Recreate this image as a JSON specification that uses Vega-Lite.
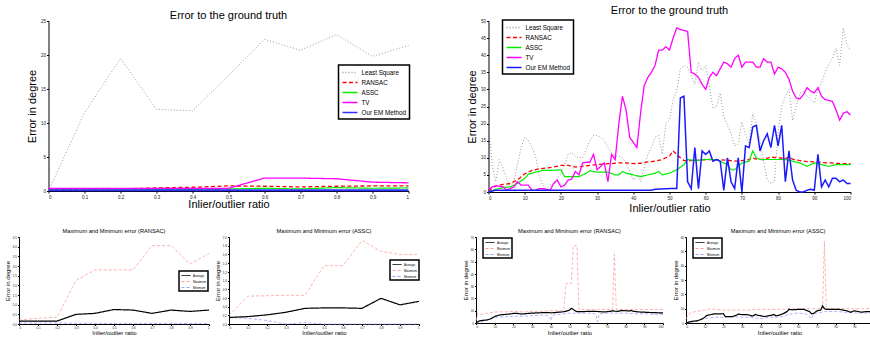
{
"$schema": "https://vega.github.io/schema/vega-lite/v6.json",
"background": "white",
"padding": {"left": 4, "top": 5, "right": 0, "bottom": 0},
"datasets": {
"tl_ls": [{"x":0,"y":0},{"x":0.1,"y":11.5},{"x":0.2,"y":19.5},{"x":0.3,"y":12},{"x":0.4,"y":11.8},{"x":0.5,"y":17},{"x":0.6,"y":22.3},{"x":0.7,"y":20.7},{"x":0.8,"y":23},{"x":0.9,"y":19.8},{"x":1,"y":21.4}],
"tl_ransac": [{"x":0,"y":0.25},{"x":0.1,"y":0.25},{"x":0.2,"y":0.3},{"x":0.3,"y":0.45},{"x":0.4,"y":0.55},{"x":0.5,"y":0.75},{"x":0.6,"y":0.7},{"x":0.7,"y":0.6},{"x":0.8,"y":0.7},{"x":0.9,"y":0.75},{"x":1,"y":0.75}],
"tl_assc": [{"x":0,"y":0.15},{"x":0.1,"y":0.15},{"x":0.2,"y":0.15},{"x":0.3,"y":0.2},{"x":0.4,"y":0.25},{"x":0.5,"y":0.3},{"x":0.6,"y":0.4},{"x":0.7,"y":0.3},{"x":0.8,"y":0.5},{"x":0.9,"y":0.4},{"x":1,"y":0.45}],
"tl_tv": [{"x":0,"y":0.4},{"x":0.1,"y":0.4},{"x":0.2,"y":0.4},{"x":0.3,"y":0.4},{"x":0.4,"y":0.4},{"x":0.5,"y":0.4},{"x":0.6,"y":1.9},{"x":0.7,"y":1.9},{"x":0.8,"y":1.8},{"x":0.9,"y":1.3},{"x":1,"y":1.2}],
"tl_em": [{"x":0,"y":0.1},{"x":0.1,"y":0.1},{"x":0.2,"y":0.1},{"x":0.3,"y":0.1},{"x":0.4,"y":0.1},{"x":0.5,"y":0.1},{"x":0.6,"y":0.1},{"x":0.7,"y":0.1},{"x":0.8,"y":0.1},{"x":0.9,"y":0.1},{"x":1,"y":0.1}],
"tr_ls": [{"x":0,"y":21},{"x":1,"y":8},{"x":2,"y":3},{"x":3,"y":9.5},{"x":4,"y":7},{"x":5,"y":4},{"x":6,"y":1.5},{"x":7,"y":3},{"x":8,"y":8},{"x":9,"y":13},{"x":10,"y":16},{"x":11,"y":15},{"x":12,"y":13},{"x":13,"y":10.5},{"x":14,"y":5},{"x":15,"y":2},{"x":16,"y":1},{"x":17,"y":2},{"x":18,"y":2.5},{"x":19,"y":4},{"x":20,"y":5},{"x":21,"y":8},{"x":22,"y":11},{"x":23,"y":11.5},{"x":24,"y":10.5},{"x":25,"y":10},{"x":26,"y":10},{"x":27,"y":12.5},{"x":28,"y":15},{"x":29,"y":16.5},{"x":30,"y":16.5},{"x":31,"y":16},{"x":32,"y":15},{"x":33,"y":13},{"x":34,"y":11.5},{"x":35,"y":10.5},{"x":36,"y":10.5},{"x":37,"y":10},{"x":38,"y":8.5},{"x":39,"y":6},{"x":40,"y":3.5},{"x":41,"y":5},{"x":42,"y":3},{"x":43,"y":7},{"x":44,"y":11},{"x":45,"y":13},{"x":46,"y":16},{"x":47,"y":16.5},{"x":48,"y":11},{"x":49,"y":20},{"x":50,"y":21},{"x":51,"y":27},{"x":52,"y":29.5},{"x":53,"y":36},{"x":54,"y":37},{"x":55,"y":36.5},{"x":56,"y":34},{"x":57,"y":31.5},{"x":58,"y":38},{"x":59,"y":35.5},{"x":60,"y":37},{"x":61,"y":31},{"x":62,"y":24.5},{"x":63,"y":25},{"x":64,"y":29},{"x":65,"y":22},{"x":66,"y":19.5},{"x":67,"y":17},{"x":68,"y":13.5},{"x":69,"y":14},{"x":70,"y":20.5},{"x":71,"y":17},{"x":72,"y":14},{"x":73,"y":23},{"x":74,"y":20},{"x":75,"y":15},{"x":76,"y":9},{"x":77,"y":3.5},{"x":78,"y":2.5},{"x":79,"y":3},{"x":80,"y":17.5},{"x":81,"y":25},{"x":82,"y":28},{"x":83,"y":30},{"x":84,"y":21},{"x":85,"y":25},{"x":86,"y":29},{"x":87,"y":29.5},{"x":88,"y":28},{"x":89,"y":27},{"x":90,"y":26},{"x":91,"y":30},{"x":92,"y":32},{"x":93,"y":35},{"x":94,"y":37.5},{"x":95,"y":39},{"x":96,"y":42},{"x":97,"y":37},{"x":98,"y":48},{"x":99,"y":43},{"x":100,"y":41.5}],
"tr_ransac": [{"x":0,"y":0.3},{"x":2,"y":1.8},{"x":4,"y":2.2},{"x":6,"y":2.5},{"x":8,"y":3.5},{"x":10,"y":5.3},{"x":12,"y":6.3},{"x":14,"y":6.8},{"x":16,"y":7},{"x":18,"y":7.3},{"x":20,"y":7.8},{"x":22,"y":7.8},{"x":24,"y":7.3},{"x":26,"y":7.5},{"x":28,"y":7.8},{"x":30,"y":8},{"x":32,"y":8.2},{"x":34,"y":8.3},{"x":36,"y":8.5},{"x":38,"y":8.5},{"x":40,"y":8.3},{"x":42,"y":8.4},{"x":44,"y":8.8},{"x":46,"y":9},{"x":48,"y":9.5},{"x":50,"y":10.5},{"x":51,"y":12},{"x":52,"y":11},{"x":53,"y":10},{"x":54,"y":9.2},{"x":56,"y":9.2},{"x":58,"y":9.3},{"x":60,"y":9.5},{"x":62,"y":9.5},{"x":64,"y":9.4},{"x":66,"y":9.3},{"x":68,"y":9},{"x":70,"y":9.2},{"x":72,"y":9.5},{"x":73,"y":10},{"x":74,"y":9.6},{"x":76,"y":9.5},{"x":78,"y":10.2},{"x":80,"y":10},{"x":82,"y":9.8},{"x":83,"y":10.2},{"x":84,"y":9.6},{"x":86,"y":9.2},{"x":88,"y":8.9},{"x":90,"y":8.8},{"x":92,"y":8.6},{"x":94,"y":8.5},{"x":96,"y":8.4},{"x":98,"y":8.3},{"x":100,"y":8.3}],
"tr_assc": [{"x":0,"y":0},{"x":2,"y":0.8},{"x":4,"y":1.3},{"x":6,"y":1.5},{"x":8,"y":2.5},{"x":10,"y":4},{"x":11,"y":5.2},{"x":13,"y":5.8},{"x":15,"y":6.3},{"x":17,"y":6.3},{"x":20,"y":6.5},{"x":21,"y":4.5},{"x":23,"y":4.5},{"x":25,"y":4.5},{"x":27,"y":5.5},{"x":28,"y":6.2},{"x":30,"y":5.8},{"x":33,"y":5.8},{"x":35,"y":5},{"x":36,"y":5},{"x":37,"y":6},{"x":38,"y":5.5},{"x":40,"y":5},{"x":42,"y":4.5},{"x":44,"y":5},{"x":46,"y":5.5},{"x":47,"y":6},{"x":48,"y":5},{"x":50,"y":5.5},{"x":52,"y":6.5},{"x":54,"y":8},{"x":55,"y":9.5},{"x":57,"y":9.2},{"x":60,"y":9.5},{"x":63,"y":9.5},{"x":65,"y":8.5},{"x":66,"y":8},{"x":67,"y":6.5},{"x":68,"y":6.5},{"x":70,"y":8.5},{"x":72,"y":9},{"x":73,"y":12},{"x":74,"y":10},{"x":75,"y":9.5},{"x":78,"y":9.5},{"x":80,"y":9.5},{"x":82,"y":9.5},{"x":84,"y":9},{"x":86,"y":8.5},{"x":88,"y":7.5},{"x":90,"y":8.5},{"x":92,"y":8},{"x":94,"y":7.5},{"x":96,"y":8},{"x":98,"y":8},{"x":100,"y":8}],
"tr_tv": [{"x":0,"y":0.5},{"x":1,"y":1.5},{"x":2,"y":1.8},{"x":3,"y":1.7},{"x":4,"y":1.5},{"x":5,"y":0.5},{"x":6,"y":1},{"x":7,"y":1.5},{"x":8,"y":3},{"x":9,"y":2},{"x":10,"y":2},{"x":11,"y":2},{"x":12,"y":0.5},{"x":13,"y":0.5},{"x":14,"y":1},{"x":15,"y":1},{"x":16,"y":0.8},{"x":17,"y":0.5},{"x":18,"y":2.5},{"x":19,"y":3.5},{"x":20,"y":1.5},{"x":21,"y":2},{"x":22,"y":3.5},{"x":23,"y":3.8},{"x":24,"y":6},{"x":25,"y":5},{"x":26,"y":8.5},{"x":27,"y":8.7},{"x":28,"y":8.7},{"x":29,"y":11},{"x":30,"y":6.5},{"x":31,"y":7.5},{"x":32,"y":8.5},{"x":33,"y":3},{"x":34,"y":11},{"x":35,"y":9.5},{"x":36,"y":20},{"x":37,"y":28},{"x":38,"y":24},{"x":39,"y":16},{"x":40,"y":14.5},{"x":41,"y":13},{"x":42,"y":23},{"x":43,"y":31},{"x":44,"y":33.5},{"x":45,"y":35},{"x":46,"y":37},{"x":47,"y":41.5},{"x":48,"y":41.5},{"x":49,"y":42.5},{"x":50,"y":41.5},{"x":51,"y":45},{"x":52,"y":48},{"x":53,"y":47.5},{"x":54,"y":47.2},{"x":55,"y":47},{"x":56,"y":35},{"x":57,"y":34.5},{"x":58,"y":33.5},{"x":59,"y":31.5},{"x":60,"y":30},{"x":61,"y":33.5},{"x":62,"y":35},{"x":63,"y":34},{"x":64,"y":36},{"x":65,"y":38},{"x":66,"y":37.5},{"x":67,"y":36.5},{"x":68,"y":39},{"x":69,"y":40},{"x":70,"y":36.5},{"x":71,"y":38},{"x":72,"y":38},{"x":73,"y":38},{"x":74,"y":36.5},{"x":75,"y":36.5},{"x":76,"y":39},{"x":77,"y":38},{"x":78,"y":38},{"x":79,"y":34.5},{"x":80,"y":36.5},{"x":81,"y":36},{"x":82,"y":35},{"x":83,"y":33},{"x":84,"y":29.5},{"x":85,"y":27.5},{"x":86,"y":27.2},{"x":87,"y":28.5},{"x":88,"y":30.5},{"x":89,"y":29.5},{"x":90,"y":29},{"x":91,"y":30.5},{"x":92,"y":28},{"x":93,"y":27},{"x":94,"y":26.8},{"x":95,"y":26.5},{"x":96,"y":24},{"x":97,"y":21},{"x":98,"y":23},{"x":99,"y":23.5},{"x":100,"y":22.5}],
"tr_em": [{"x":0,"y":0},{"x":1,"y":0.3},{"x":2,"y":0.5},{"x":5,"y":0.5},{"x":10,"y":0.5},{"x":15,"y":0.5},{"x":20,"y":0.5},{"x":25,"y":0.5},{"x":30,"y":0.5},{"x":35,"y":0.5},{"x":40,"y":0.5},{"x":45,"y":0.5},{"x":46,"y":0.8},{"x":48,"y":0.9},{"x":50,"y":1},{"x":52,"y":1},{"x":53,"y":27.5},{"x":54,"y":28},{"x":55,"y":3},{"x":56,"y":1},{"x":57,"y":13},{"x":58,"y":1},{"x":59,"y":12},{"x":60,"y":11},{"x":61,"y":12},{"x":62,"y":9},{"x":63,"y":9.5},{"x":64,"y":9},{"x":65,"y":0.5},{"x":66,"y":10},{"x":67,"y":3},{"x":68,"y":1},{"x":69,"y":10},{"x":70,"y":0},{"x":71,"y":13.5},{"x":72,"y":13},{"x":73,"y":19},{"x":74,"y":19.5},{"x":75,"y":12},{"x":76,"y":15},{"x":77,"y":17},{"x":78,"y":13},{"x":79,"y":19.5},{"x":80,"y":13.5},{"x":81,"y":19.5},{"x":82,"y":3},{"x":83,"y":12},{"x":84,"y":3.5},{"x":85,"y":0.5},{"x":86,"y":0},{"x":87,"y":0},{"x":88,"y":0.5},{"x":89,"y":0.8},{"x":90,"y":0.5},{"x":91,"y":11},{"x":92,"y":1.5},{"x":93,"y":3.5},{"x":94,"y":1.5},{"x":95,"y":4},{"x":96,"y":4},{"x":97,"y":3},{"x":98,"y":3.5},{"x":99,"y":2.5},{"x":100,"y":2.5}],
"b1_avg": [{"x":0,"y":0.15},{"x":0.1,"y":0.15},{"x":0.2,"y":0.15},{"x":0.3,"y":0.5},{"x":0.4,"y":0.55},{"x":0.5,"y":0.75},{"x":0.6,"y":0.72},{"x":0.7,"y":0.55},{"x":0.8,"y":0.72},{"x":0.9,"y":0.65},{"x":1,"y":0.72}],
"b1_max": [{"x":0,"y":0.2},{"x":0.1,"y":0.3},{"x":0.2,"y":0.35},{"x":0.3,"y":2.25},{"x":0.4,"y":2.8},{"x":0.5,"y":2.8},{"x":0.6,"y":2.8},{"x":0.7,"y":4.05},{"x":0.8,"y":4.05},{"x":0.9,"y":3.1},{"x":1,"y":3.65}],
"b1_min": [{"x":0,"y":0.05},{"x":0.1,"y":0.05},{"x":0.2,"y":0.05},{"x":0.3,"y":0.04},{"x":0.4,"y":0.03},{"x":0.5,"y":0.03},{"x":0.6,"y":0.03},{"x":0.7,"y":0.03},{"x":0.8,"y":0.03},{"x":0.9,"y":0.03},{"x":1,"y":0.03}],
"b2_avg": [{"x":0,"y":0.15},{"x":0.1,"y":0.17},{"x":0.2,"y":0.21},{"x":0.3,"y":0.27},{"x":0.4,"y":0.36},{"x":0.5,"y":0.37},{"x":0.6,"y":0.37},{"x":0.7,"y":0.36},{"x":0.8,"y":0.59},{"x":0.9,"y":0.44},{"x":1,"y":0.52}],
"b2_max": [{"x":0,"y":0.2},{"x":0.1,"y":0.64},{"x":0.2,"y":0.65},{"x":0.3,"y":0.66},{"x":0.4,"y":0.66},{"x":0.5,"y":1.34},{"x":0.6,"y":1.34},{"x":0.7,"y":1.92},{"x":0.8,"y":1.67},{"x":0.9,"y":1.6},{"x":1,"y":1.6}],
"b2_min": [{"x":0,"y":0.15},{"x":0.1,"y":0.13},{"x":0.2,"y":0.08},{"x":0.3,"y":0},{"x":0.4,"y":0.03},{"x":0.5,"y":0},{"x":0.6,"y":0},{"x":0.7,"y":0},{"x":0.8,"y":0},{"x":0.9,"y":0},{"x":1,"y":0}],
"b3_max": [{"x":0,"y":2},{"x":1,"y":8},{"x":3,"y":7},{"x":5,"y":7.5},{"x":10,"y":9},{"x":15,"y":9},{"x":20,"y":9.5},{"x":25,"y":9},{"x":30,"y":9.5},{"x":35,"y":9.5},{"x":40,"y":10},{"x":45,"y":10},{"x":47,"y":10.5},{"x":48,"y":32},{"x":51,"y":32},{"x":52,"y":63},{"x":54,"y":63},{"x":55,"y":11},{"x":60,"y":11},{"x":65,"y":11},{"x":70,"y":11},{"x":73,"y":11},{"x":74,"y":56},{"x":75,"y":11},{"x":80,"y":11},{"x":85,"y":11},{"x":90,"y":11},{"x":95,"y":11},{"x":100,"y":11}],
"b3_min": [{"x":0,"y":0},{"x":5,"y":2},{"x":10,"y":4.5},{"x":15,"y":5},{"x":20,"y":5.5},{"x":25,"y":5.5},{"x":30,"y":6},{"x":35,"y":6.5},{"x":39,"y":6},{"x":40,"y":2},{"x":41,"y":6.5},{"x":45,"y":7},{"x":50,"y":8},{"x":55,"y":8},{"x":60,"y":8},{"x":64,"y":7.5},{"x":65,"y":1},{"x":66,"y":7.5},{"x":70,"y":8},{"x":75,"y":8},{"x":80,"y":8},{"x":85,"y":7.5},{"x":90,"y":7.5},{"x":95,"y":7},{"x":100,"y":7}],
"b4_max": [{"x":0,"y":3},{"x":2,"y":7},{"x":5,"y":8},{"x":10,"y":9},{"x":13,"y":10},{"x":15,"y":9.5},{"x":20,"y":9},{"x":30,"y":9},{"x":40,"y":9.5},{"x":50,"y":9.5},{"x":55,"y":10},{"x":60,"y":10},{"x":70,"y":10},{"x":73,"y":10},{"x":74,"y":57},{"x":75,"y":10},{"x":80,"y":10},{"x":90,"y":10},{"x":100,"y":10}],
"b4_min": [{"x":0,"y":0},{"x":5,"y":1},{"x":10,"y":3},{"x":15,"y":4},{"x":20,"y":4},{"x":25,"y":4.5},{"x":30,"y":4},{"x":35,"y":4},{"x":40,"y":3},{"x":45,"y":4},{"x":50,"y":4},{"x":55,"y":6},{"x":60,"y":7},{"x":65,"y":6},{"x":67,"y":3},{"x":68,"y":6},{"x":70,"y":7},{"x":75,"y":8},{"x":80,"y":8},{"x":90,"y":7},{"x":100,"y":7}]
},
"vconcat": [
{
"hconcat": [
{
"width": 360, "height": 170,
"title": {"text": "Error to the ground truth", "fontSize": 11, "fontWeight": "normal", "offset": 2, "dy": 5},
"encoding": {
"x": {"field": "x", "type": "quantitative", "scale": {"domain": [0, 1], "nice": false}, "axis": {"title": "Inlier/outlier ratio", "titleFontSize": 11, "labelFontSize": 4.5, "tickSize": 2, "labelPadding": 1, "titlePadding": 0, "format": "~g", "values": [0,0.1,0.2,0.3,0.4,0.5,0.6,0.7,0.8,0.9,1]}},
"y": {"field": "y", "type": "quantitative", "scale": {"domain": [0, 25], "nice": false}, "axis": {"title": "Error in degree", "titleFontSize": 11, "labelFontSize": 4.5, "tickSize": 2, "labelPadding": 1, "titlePadding": 2.5, "values": [0,5,10,15,20,25]}}
},
"layer": [
{"data": {"name": "tl_ls"}, "mark": {"type": "line", "strokeWidth": 1}, "encoding": {
"color": {"datum": "Least Square", "type": "nominal", "scale": {"domain": ["Least Square","RANSAC","ASSC","TV","Our EM Method"], "range": ["#9a9a9a","#ff0000","#00ee00","#ff00ff","#3030ff"]}, "legend": {"title": null, "orient": "none", "legendX": 290, "legendY": 44, "labelFontSize": 6.3, "symbolType": "M-2,0H2", "symbolSize": 56, "symbolOffset": 4, "symbolStrokeWidth": 1.5, "padding": 3, "rowPadding": 2, "labelOffset": 7, "strokeColor": "black", "fillColor": "white"}},
"strokeDash": {"datum": "Least Square", "type": "nominal", "scale": {"domain": ["Least Square","RANSAC","ASSC","TV","Our EM Method"], "range": [[1,2],[4,2.5],[1,0],[1,0],[1,0]]}, "legend": {"title": null, "orient": "none", "legendX": 290, "legendY": 44, "labelFontSize": 6.3, "symbolType": "M-2,0H2", "symbolSize": 56, "symbolOffset": 4, "symbolStrokeWidth": 1.5, "padding": 3, "rowPadding": 2, "labelOffset": 7, "strokeColor": "black", "fillColor": "white"}}}},
{"data": {"name": "tl_ransac"}, "mark": {"type": "line", "strokeWidth": 1.3}, "encoding": {"color": {"datum": "RANSAC", "type": "nominal"}, "strokeDash": {"datum": "RANSAC", "type": "nominal"}}},
{"data": {"name": "tl_assc"}, "mark": {"type": "line", "strokeWidth": 1.2}, "encoding": {"color": {"datum": "ASSC", "type": "nominal"}, "strokeDash": {"datum": "ASSC", "type": "nominal"}}},
{"data": {"name": "tl_tv"}, "mark": {"type": "line", "strokeWidth": 1.3}, "encoding": {"color": {"datum": "TV", "type": "nominal"}, "strokeDash": {"datum": "TV", "type": "nominal"}}},
{"data": {"name": "tl_em"}, "mark": {"type": "line", "strokeWidth": 2}, "encoding": {"color": {"datum": "Our EM Method", "type": "nominal"}, "strokeDash": {"datum": "Our EM Method", "type": "nominal"}}}
]
},
{
"width": 362, "height": 171,
"title": {"text": "Error to the ground truth", "fontSize": 11, "fontWeight": "normal", "offset": 2},
"encoding": {
"x": {"field": "x", "type": "quantitative", "scale": {"domain": [0, 100], "nice": false}, "axis": {"title": "Inlier/outlier ratio", "titleFontSize": 11, "labelFontSize": 4.5, "tickSize": 2, "labelPadding": 1, "titlePadding": 3, "labelFlush": true, "values": [0,10,20,30,40,50,60,70,80,90,100]}},
"y": {"field": "y", "type": "quantitative", "scale": {"domain": [0, 50], "nice": false}, "axis": {"title": "Error in degree", "titleFontSize": 11, "labelFontSize": 4.5, "tickSize": 2, "labelPadding": 1, "titlePadding": 2.5, "values": [0,5,10,15,20,25,30,35,40,45,50]}}
},
"layer": [
{"data": {"name": "tr_ls"}, "mark": {"type": "line", "strokeWidth": 1}, "encoding": {
"color": {"datum": "Least Square", "type": "nominal", "scale": {"domain": ["Least Square","RANSAC","ASSC","TV","Our EM Method"], "range": ["#9a9a9a","#ff0000","#00ee00","#ff00ff","#1a1aff"]}, "legend": {"title": null, "orient": "none", "legendX": 14, "legendY": -1, "labelFontSize": 6.3, "symbolType": "M-2,0H2", "symbolSize": 56, "symbolOffset": 4, "symbolStrokeWidth": 1.5, "padding": 3, "rowPadding": 2, "labelOffset": 7, "strokeColor": "black", "fillColor": "white"}},
"strokeDash": {"datum": "Least Square", "type": "nominal", "scale": {"domain": ["Least Square","RANSAC","ASSC","TV","Our EM Method"], "range": [[1,2],[4,2.5],[1,0],[1,0],[1,0]]}, "legend": {"title": null, "orient": "none", "legendX": 14, "legendY": -1, "labelFontSize": 6.3, "symbolType": "M-2,0H2", "symbolSize": 56, "symbolOffset": 4, "symbolStrokeWidth": 1.5, "padding": 3, "rowPadding": 2, "labelOffset": 7, "strokeColor": "black", "fillColor": "white"}}}},
{"data": {"name": "tr_ransac"}, "mark": {"type": "line", "strokeWidth": 1.3}, "encoding": {"color": {"datum": "RANSAC", "type": "nominal"}, "strokeDash": {"datum": "RANSAC", "type": "nominal"}}},
{"data": {"name": "tr_assc"}, "mark": {"type": "line", "strokeWidth": 1.2}, "encoding": {"color": {"datum": "ASSC", "type": "nominal"}, "strokeDash": {"datum": "ASSC", "type": "nominal"}}},
{"data": {"name": "tr_tv"}, "mark": {"type": "line", "strokeWidth": 1.3}, "encoding": {"color": {"datum": "TV", "type": "nominal"}, "strokeDash": {"datum": "TV", "type": "nominal"}}},
{"data": {"name": "tr_em"}, "mark": {"type": "line", "strokeWidth": 1.5}, "encoding": {"color": {"datum": "Our EM Method", "type": "nominal"}, "strokeDash": {"datum": "Our EM Method", "type": "nominal"}}}
]
}
],
"spacing": 80, "bounds": "flush",
"resolve": {"scale": {"color": "independent", "strokeDash": "independent"}}
},
{
"hconcat": [
{
"hconcat": [
{
"width": 190, "height": 87,
"title": {"text": "Maximum and Minimum error (RANSAC)", "fontSize": 5.7, "fontWeight": "normal", "offset": 2},
"encoding": {
"x": {"field": "x", "type": "quantitative", "scale": {"domain": [0, 1], "nice": false}, "axis": {"title": "Inlier/outlier ratio", "titleFontSize": 6, "labelFontSize": 3, "tickSize": 1.5, "labelPadding": 0.5, "titlePadding": 0, "format": "~g", "values": [0,0.1,0.2,0.3,0.4,0.5,0.6,0.7,0.8,0.9,1]}},
"y": {"field": "y", "type": "quantitative", "scale": {"domain": [0, 4.5], "nice": false}, "axis": {"title": "Error in degree", "titleFontSize": 6, "labelFontSize": 3, "tickSize": 1.5, "labelPadding": 1, "titlePadding": 1.5, "values": [0,0.5,1,1.5,2,2.5,3,3.5,4,4.5]}}
},
"layer": [
{"data": {"name": "b1_min"}, "mark": {"type": "line", "strokeWidth": 0.8}, "encoding": {
"color": {"datum": "Minimum", "type": "nominal", "scale": {"domain": ["Average","Maximum","Minimum"], "range": ["#000000","#ff9e9e","#9e9eff"]}, "legend": {"title": null, "orient": "none", "legendX": 160, "legendY": 34, "labelFontSize": 3, "symbolType": "M-2,0H2", "symbolSize": 20, "symbolOffset": 2.5, "symbolStrokeWidth": 1, "padding": 1.5, "rowPadding": 1, "labelOffset": 4, "strokeColor": "black", "fillColor": "white"}},
"strokeDash": {"datum": "Minimum", "type": "nominal", "scale": {"domain": ["Average","Maximum","Minimum"], "range": [[1,0],[3,2],[3,2]]}, "legend": {"title": null, "orient": "none", "legendX": 160, "legendY": 34, "labelFontSize": 3, "symbolType": "M-2,0H2", "symbolSize": 20, "symbolOffset": 2.5, "symbolStrokeWidth": 1, "padding": 1.5, "rowPadding": 1, "labelOffset": 4, "strokeColor": "black", "fillColor": "white"}}}},
{"data": {"name": "b1_max"}, "mark": {"type": "line", "strokeWidth": 0.8}, "encoding": {"color": {"datum": "Maximum", "type": "nominal"}, "strokeDash": {"datum": "Maximum", "type": "nominal"}}},
{"data": {"name": "b1_avg"}, "mark": {"type": "line", "strokeWidth": 1.2}, "encoding": {"color": {"datum": "Average", "type": "nominal"}, "strokeDash": {"datum": "Average", "type": "nominal"}}}
]
},
{
"width": 190, "height": 87,
"title": {"text": "Maximum and Minimum error (ASSC)", "fontSize": 5.7, "fontWeight": "normal", "offset": 2},
"encoding": {
"x": {"field": "x", "type": "quantitative", "scale": {"domain": [0, 1], "nice": false}, "axis": {"title": "Inlier/outlier ratio", "titleFontSize": 6, "labelFontSize": 3, "tickSize": 1.5, "labelPadding": 0.5, "titlePadding": 0, "format": "~g", "values": [0,0.1,0.2,0.3,0.4,0.5,0.6,0.7,0.8,0.9,1]}},
"y": {"field": "y", "type": "quantitative", "scale": {"domain": [0, 2], "nice": false}, "axis": {"title": "Error in degree", "titleFontSize": 6, "labelFontSize": 3, "tickSize": 1.5, "labelPadding": 1, "titlePadding": 1.5, "values": [0,0.2,0.4,0.6,0.8,1,1.2,1.4,1.6,1.8,2]}}
},
"layer": [
{"data": {"name": "b2_min"}, "mark": {"type": "line", "strokeWidth": 0.8}, "encoding": {
"color": {"datum": "Minimum", "type": "nominal", "scale": {"domain": ["Average","Maximum","Minimum"], "range": ["#000000","#ff9e9e","#9e9eff"]}, "legend": {"title": null, "orient": "none", "legendX": 161, "legendY": 23, "labelFontSize": 3, "symbolType": "M-2,0H2", "symbolSize": 20, "symbolOffset": 2.5, "symbolStrokeWidth": 1, "padding": 1.5, "rowPadding": 1, "labelOffset": 4, "strokeColor": "black", "fillColor": "white"}},
"strokeDash": {"datum": "Minimum", "type": "nominal", "scale": {"domain": ["Average","Maximum","Minimum"], "range": [[1,0],[3,2],[3,2]]}, "legend": {"title": null, "orient": "none", "legendX": 161, "legendY": 23, "labelFontSize": 3, "symbolType": "M-2,0H2", "symbolSize": 20, "symbolOffset": 2.5, "symbolStrokeWidth": 1, "padding": 1.5, "rowPadding": 1, "labelOffset": 4, "strokeColor": "black", "fillColor": "white"}}}},
{"data": {"name": "b2_max"}, "mark": {"type": "line", "strokeWidth": 0.8}, "encoding": {"color": {"datum": "Maximum", "type": "nominal"}, "strokeDash": {"datum": "Maximum", "type": "nominal"}}},
{"data": {"name": "b2_avg"}, "mark": {"type": "line", "strokeWidth": 1.2}, "encoding": {"color": {"datum": "Average", "type": "nominal"}, "strokeDash": {"datum": "Average", "type": "nominal"}}}
]
}
],
"spacing": 20, "bounds": "flush",
"resolve": {"scale": {"color": "independent", "strokeDash": "independent"}}
},
{
"hconcat": [
{
"width": 187, "height": 86,
"title": {"text": "Maximum and Minimum error (RANSAC)", "fontSize": 5.7, "fontWeight": "normal", "offset": 2},
"encoding": {
"x": {"field": "x", "type": "quantitative", "scale": {"domain": [0, 100], "nice": false}, "axis": {"title": "Inlier/outlier ratio", "titleFontSize": 6, "labelFontSize": 3, "tickSize": 1.5, "labelPadding": 0.5, "titlePadding": 1.5, "values": [0,10,20,30,40,50,60,70,80,90,100]}},
"y": {"field": "y", "type": "quantitative", "scale": {"domain": [0, 70], "nice": false}, "axis": {"title": "Error in degree", "titleFontSize": 6, "labelFontSize": 3, "tickSize": 1.5, "labelPadding": 1, "titlePadding": 1.5, "values": [0,10,20,30,40,50,60,70]}}
},
"layer": [
{"data": {"name": "b3_min"}, "mark": {"type": "line", "strokeWidth": 0.8}, "encoding": {
"color": {"datum": "Minimum", "type": "nominal", "scale": {"domain": ["Average","Maximum","Minimum"], "range": ["#000000","#ff9e9e","#9e9eff"]}, "legend": {"title": null, "orient": "none", "legendX": 7, "legendY": 1, "labelFontSize": 3, "symbolType": "M-2,0H2", "symbolSize": 20, "symbolOffset": 2.5, "symbolStrokeWidth": 1, "padding": 1.5, "rowPadding": 1, "labelOffset": 4, "strokeColor": "black", "fillColor": "white"}},
"strokeDash": {"datum": "Minimum", "type": "nominal", "scale": {"domain": ["Average","Maximum","Minimum"], "range": [[1,0],[3,2],[3,2]]}, "legend": {"title": null, "orient": "none", "legendX": 7, "legendY": 1, "labelFontSize": 3, "symbolType": "M-2,0H2", "symbolSize": 20, "symbolOffset": 2.5, "symbolStrokeWidth": 1, "padding": 1.5, "rowPadding": 1, "labelOffset": 4, "strokeColor": "black", "fillColor": "white"}}}},
{"data": {"name": "b3_max"}, "mark": {"type": "line", "strokeWidth": 0.8}, "encoding": {"color": {"datum": "Maximum", "type": "nominal"}, "strokeDash": {"datum": "Maximum", "type": "nominal"}}},
{"data": {"name": "tr_ransac"}, "mark": {"type": "line", "strokeWidth": 1.2}, "encoding": {"color": {"datum": "Average", "type": "nominal"}, "strokeDash": {"datum": "Average", "type": "nominal"}}}
]
},
{
"width": 197, "height": 86,
"title": {"text": "Maximum and Minimum error (ASSC)", "fontSize": 5.7, "fontWeight": "normal", "offset": 2, "anchor": "start", "dx": 58},
"encoding": {
"x": {"field": "x", "type": "quantitative", "scale": {"domain": [0, 105.3], "nice": false}, "axis": {"title": "Inlier/outlier ratio", "titleFontSize": 6, "labelFontSize": 3, "tickSize": 1.5, "labelPadding": 0.5, "titlePadding": 1.5, "titleX": 93.5, "values": [0,10,20,30,40,50,60,70,80,90]}},
"y": {"field": "y", "type": "quantitative", "scale": {"domain": [0, 60], "nice": false}, "axis": {"title": "Error in degree", "titleFontSize": 6, "labelFontSize": 3, "tickSize": 1.5, "labelPadding": 1, "titlePadding": 1.5, "values": [0,10,20,30,40,50,60]}}
},
"layer": [
{"data": {"name": "b4_min"}, "mark": {"type": "line", "strokeWidth": 0.8}, "encoding": {
"color": {"datum": "Minimum", "type": "nominal", "scale": {"domain": ["Average","Maximum","Minimum"], "range": ["#000000","#ff9e9e","#9e9eff"]}, "legend": {"title": null, "orient": "none", "legendX": 7, "legendY": 1, "labelFontSize": 3, "symbolType": "M-2,0H2", "symbolSize": 20, "symbolOffset": 2.5, "symbolStrokeWidth": 1, "padding": 1.5, "rowPadding": 1, "labelOffset": 4, "strokeColor": "black", "fillColor": "white"}},
"strokeDash": {"datum": "Minimum", "type": "nominal", "scale": {"domain": ["Average","Maximum","Minimum"], "range": [[1,0],[3,2],[3,2]]}, "legend": {"title": null, "orient": "none", "legendX": 7, "legendY": 1, "labelFontSize": 3, "symbolType": "M-2,0H2", "symbolSize": 20, "symbolOffset": 2.5, "symbolStrokeWidth": 1, "padding": 1.5, "rowPadding": 1, "labelOffset": 4, "strokeColor": "black", "fillColor": "white"}}}},
{"data": {"name": "b4_max"}, "mark": {"type": "line", "strokeWidth": 0.8}, "encoding": {"color": {"datum": "Maximum", "type": "nominal"}, "strokeDash": {"datum": "Maximum", "type": "nominal"}}},
{"data": {"name": "tr_assc"}, "mark": {"type": "line", "strokeWidth": 1.2}, "encoding": {"color": {"datum": "Average", "type": "nominal"}, "strokeDash": {"datum": "Average", "type": "nominal"}}}
]
}
],
"spacing": 23, "bounds": "flush",
"resolve": {"scale": {"color": "independent", "strokeDash": "independent"}}
}
],
"spacing": 40,
"resolve": {"scale": {"color": "independent", "strokeDash": "independent"}}
}
],
"spacing": 14,
"center": true,
"resolve": {"scale": {"color": "independent", "strokeDash": "independent"}},
"config": {
"font": "Liberation Sans",
"view": {"stroke": null},
"axis": {"grid": false, "domainColor": "black", "tickColor": "black", "labelColor": "#222222", "titleColor": "black", "titleFontWeight": "normal", "domainWidth": 1},
"legend": {"strokeWidth": 1.5, "labelColor": "black"},
"line": {"strokeJoin": "miter"}
}
}
